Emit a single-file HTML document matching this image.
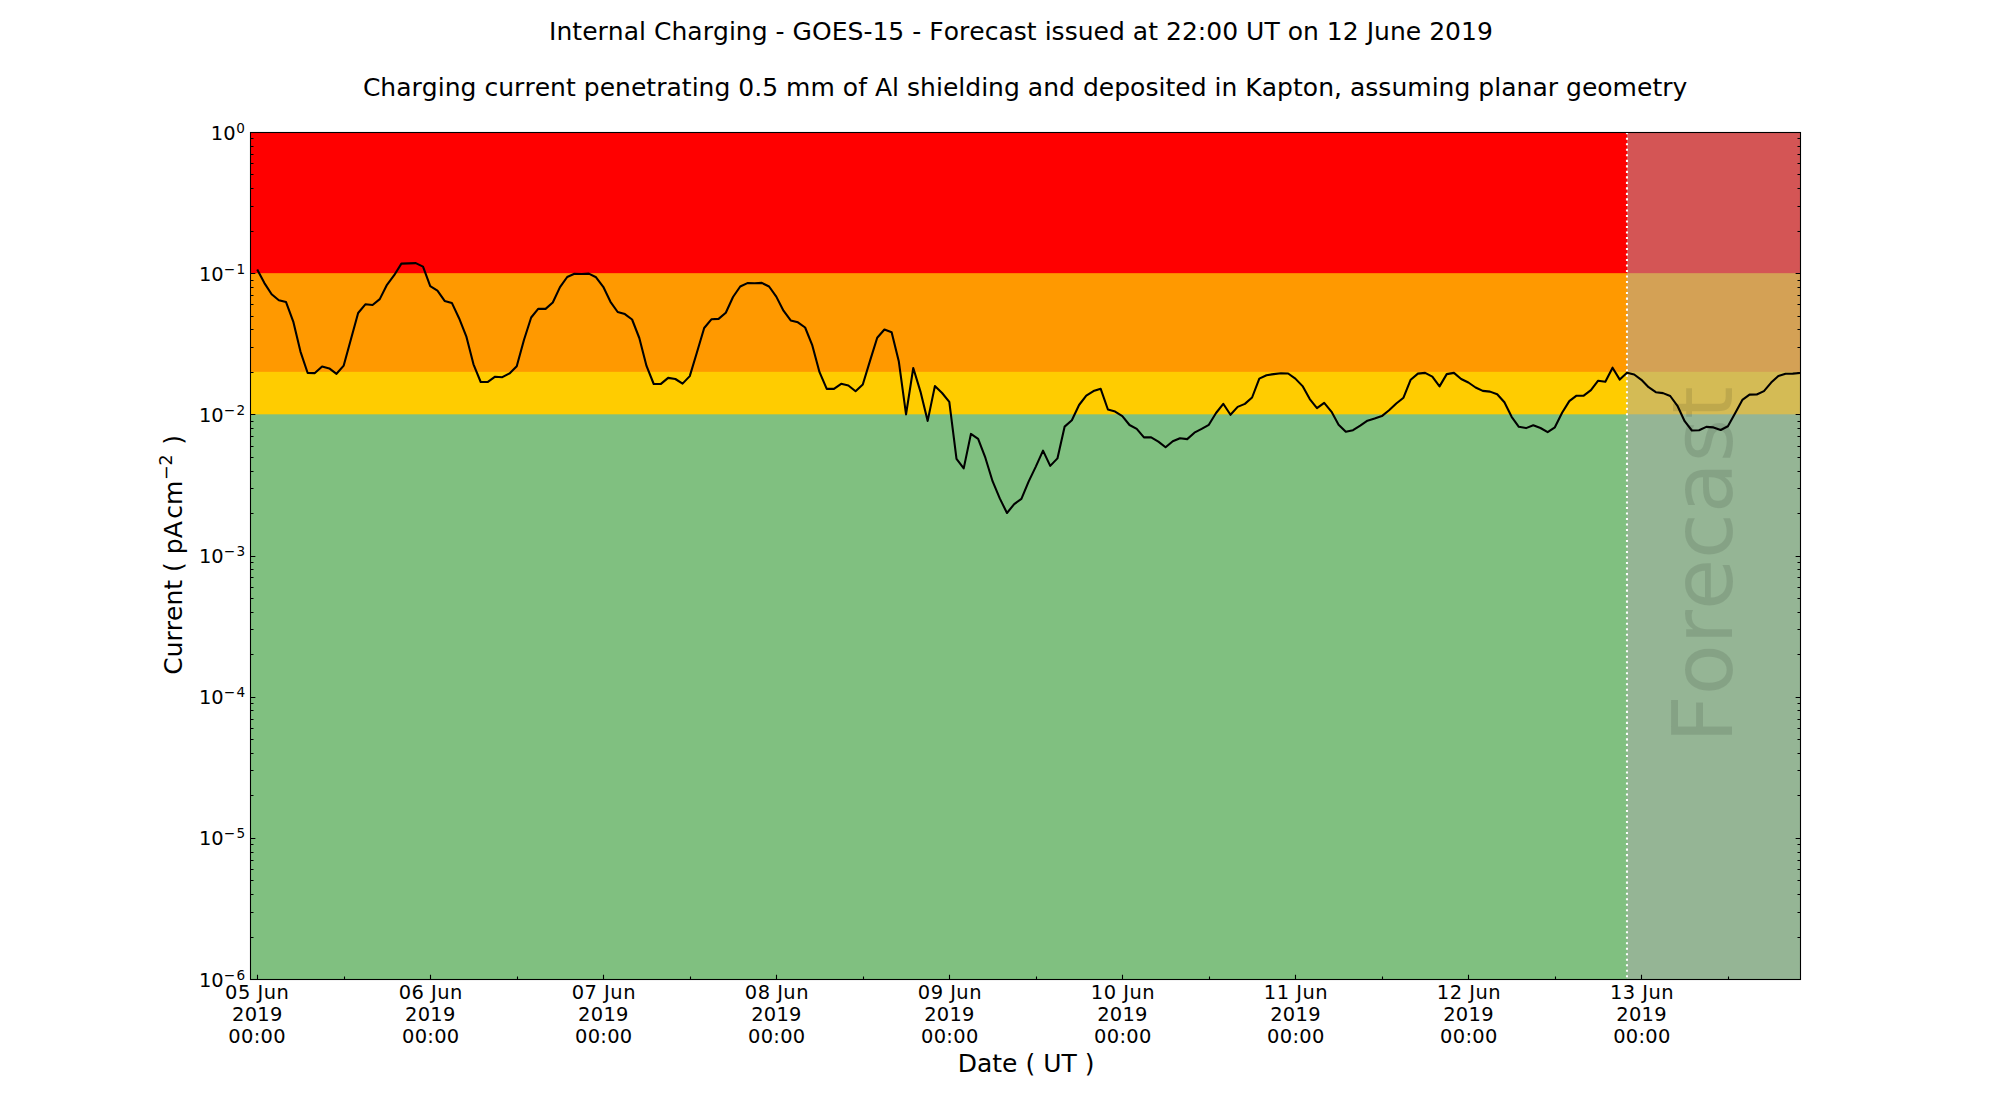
<!DOCTYPE html>
<html lang="en"><head><meta charset="utf-8">
<title>Internal Charging - GOES-15 - Forecast</title>
<style>
html,body{margin:0;padding:0;background:#fff;}
body{width:2000px;height:1100px;overflow:hidden;}
svg{display:block;}
text{font-family:"DejaVu Sans", "Liberation Sans", sans-serif;fill:#000;font-kerning:none;}
.t18{font-size:25px;}
.t14{font-size:19.44px;}
.sup{font-size:13.61px;}
</style></head><body>
<svg width="2000" height="1100" viewBox="0 0 2000 1100">
<rect x="0" y="0" width="2000" height="1100" fill="#ffffff"/>
<g>
<rect x="250.0" y="132.0" width="1550.0" height="847.0" fill="#ff0000"/>
<rect x="250.0" y="273.17" width="1550.0" height="705.83" fill="#ff9900"/>
<rect x="250.0" y="371.84" width="1550.0" height="607.16" fill="#ffcc00"/>
<rect x="250.0" y="414.33" width="1550.0" height="564.67" fill="#80c080"/>
<rect x="1626.98" y="132.0" width="173.02" height="847.0" fill="#a9a9a9" fill-opacity="0.5"/>
</g>
<text transform="translate(1732,743) rotate(-90)" font-size="83.33px" textLength="356.8" lengthAdjust="spacing" fill="#000000" fill-opacity="0.1" style="fill:#000;fill-opacity:0.1">Forecast</text>
<line x1="1626.98" y1="979.0" x2="1626.98" y2="132.0" stroke="#ffffff" stroke-width="2.08" stroke-dasharray="2.08 3.43" stroke-dashoffset="3.87"/>
<polyline points="257.21,269.5 264.42,283.1 271.63,294.3 278.84,300.2 286.05,302.1 293.26,321.6 300.47,351.6 307.67,373.0 314.88,373.1 322.09,366.6 329.30,368.4 336.51,373.8 343.72,365.6 350.93,339.3 358.14,313.0 365.35,304.3 372.56,305.0 379.77,299.1 386.98,284.8 394.19,275.2 401.40,263.6 408.60,263.4 415.81,263.1 423.02,266.6 430.23,286.1 437.44,290.6 444.65,300.9 451.86,302.9 459.07,318.2 466.28,336.3 473.49,364.3 480.70,382.0 487.91,381.9 495.12,376.7 502.33,377.2 509.53,373.4 516.74,366.2 523.95,340.0 531.16,317.5 538.37,308.7 545.58,308.9 552.79,302.5 560.00,287.1 567.21,277.0 574.42,273.7 581.63,274.0 588.84,273.6 596.05,277.3 603.26,286.8 610.47,301.8 617.67,312.0 624.88,314.1 632.09,319.5 639.30,338.0 646.51,365.9 653.72,384.0 660.93,383.9 668.14,377.9 675.35,379.0 682.56,383.6 689.77,376.1 696.98,352.3 704.19,328.0 711.40,319.3 718.60,318.9 725.81,312.7 733.02,297.0 740.23,286.5 747.44,283.1 754.65,283.3 761.86,282.9 769.07,286.5 776.28,296.6 783.49,310.7 790.70,320.4 797.91,322.3 805.12,327.5 812.33,345.4 819.53,372.2 826.74,388.9 833.95,388.9 841.16,383.8 848.37,385.5 855.58,391.2 862.79,384.5 870.00,360.9 877.21,337.7 884.42,329.5 891.63,332.3 898.84,361.6 906.05,414.4 913.26,368.0 920.47,391.6 927.67,420.9 934.88,386.1 942.09,393.0 949.30,401.8 956.51,458.8 963.72,468.4 970.93,433.9 978.14,438.9 985.35,457.7 992.56,481.2 999.77,498.4 1006.98,513.0 1014.19,504.1 1021.40,498.9 1028.60,481.6 1035.81,466.6 1043.02,450.6 1050.23,465.9 1057.44,458.4 1064.65,426.6 1071.86,420.2 1079.07,405.0 1086.28,395.6 1093.49,391.1 1100.70,388.8 1107.91,409.5 1115.12,411.6 1122.33,416.1 1129.53,425.0 1136.74,428.9 1143.95,437.4 1151.16,437.4 1158.37,441.6 1165.58,447.3 1172.79,441.2 1180.00,438.2 1187.21,439.1 1194.42,432.7 1201.63,428.9 1208.84,424.8 1216.05,413.0 1223.26,403.8 1230.47,414.8 1237.67,406.9 1244.88,403.9 1252.09,397.5 1259.30,378.6 1266.51,375.2 1273.72,374.1 1280.93,373.2 1288.14,373.5 1295.35,378.6 1302.56,386.1 1309.77,399.1 1316.98,408.2 1324.19,402.8 1331.40,411.6 1338.60,424.7 1345.81,431.8 1353.02,430.2 1360.23,425.7 1367.44,420.7 1374.65,418.6 1381.86,416.1 1389.07,410.3 1396.28,403.5 1403.49,397.7 1410.70,379.7 1417.91,373.6 1425.12,372.9 1432.33,376.6 1439.53,386.4 1446.74,374.1 1453.95,372.9 1461.16,379.0 1468.37,382.5 1475.58,387.5 1482.79,390.9 1490.00,391.6 1497.21,394.3 1504.42,402.3 1511.63,416.8 1518.84,426.8 1526.05,428.1 1533.26,425.3 1540.47,428.0 1547.67,432.1 1554.88,427.3 1562.09,412.7 1569.30,401.1 1576.51,395.7 1583.72,395.7 1590.93,390.2 1598.14,380.7 1605.35,381.8 1612.56,367.7 1619.77,379.6 1626.98,372.8 1634.19,374.5 1641.40,379.8 1648.60,387.2 1655.81,392.2 1663.02,393.1 1670.23,396.0 1677.44,405.8 1684.65,421.2 1691.86,430.5 1699.07,430.2 1706.28,426.9 1713.49,427.4 1720.70,430.0 1727.91,426.3 1735.12,413.2 1742.33,399.9 1749.53,394.6 1756.74,394.5 1763.95,391.1 1771.16,382.6 1778.37,376.1 1785.58,373.8 1792.79,373.6 1800.00,373.0" fill="none" stroke="#000000" stroke-width="2.08" stroke-linejoin="round" stroke-linecap="butt"/>
<path d="M250.5,132.50h4.86M1800.5,132.50h-4.86M250.5,231.50h3.0M1800.5,231.50h-3.0M250.5,206.50h3.0M1800.5,206.50h-3.0M250.5,188.50h3.0M1800.5,188.50h-3.0M250.5,174.50h3.0M1800.5,174.50h-3.0M250.5,163.50h3.0M1800.5,163.50h-3.0M250.5,154.50h3.0M1800.5,154.50h-3.0M250.5,146.50h3.0M1800.5,146.50h-3.0M250.5,138.50h3.0M1800.5,138.50h-3.0M250.5,273.50h4.86M1800.5,273.50h-4.86M250.5,372.50h3.0M1800.5,372.50h-3.0M250.5,347.50h3.0M1800.5,347.50h-3.0M250.5,329.50h3.0M1800.5,329.50h-3.0M250.5,316.50h3.0M1800.5,316.50h-3.0M250.5,304.50h3.0M1800.5,304.50h-3.0M250.5,295.50h3.0M1800.5,295.50h-3.0M250.5,287.50h3.0M1800.5,287.50h-3.0M250.5,280.50h3.0M1800.5,280.50h-3.0M250.5,414.50h4.86M1800.5,414.50h-4.86M250.5,513.50h3.0M1800.5,513.50h-3.0M250.5,488.50h3.0M1800.5,488.50h-3.0M250.5,471.50h3.0M1800.5,471.50h-3.0M250.5,457.50h3.0M1800.5,457.50h-3.0M250.5,446.50h3.0M1800.5,446.50h-3.0M250.5,436.50h3.0M1800.5,436.50h-3.0M250.5,428.50h3.0M1800.5,428.50h-3.0M250.5,421.50h3.0M1800.5,421.50h-3.0M250.5,556.50h4.86M1800.5,556.50h-4.86M250.5,654.50h3.0M1800.5,654.50h-3.0M250.5,629.50h3.0M1800.5,629.50h-3.0M250.5,612.50h3.0M1800.5,612.50h-3.0M250.5,598.50h3.0M1800.5,598.50h-3.0M250.5,587.50h3.0M1800.5,587.50h-3.0M250.5,577.50h3.0M1800.5,577.50h-3.0M250.5,569.50h3.0M1800.5,569.50h-3.0M250.5,562.50h3.0M1800.5,562.50h-3.0M250.5,697.50h4.86M1800.5,697.50h-4.86M250.5,795.50h3.0M1800.5,795.50h-3.0M250.5,770.50h3.0M1800.5,770.50h-3.0M250.5,753.50h3.0M1800.5,753.50h-3.0M250.5,739.50h3.0M1800.5,739.50h-3.0M250.5,728.50h3.0M1800.5,728.50h-3.0M250.5,719.50h3.0M1800.5,719.50h-3.0M250.5,710.50h3.0M1800.5,710.50h-3.0M250.5,703.50h3.0M1800.5,703.50h-3.0M250.5,838.50h4.86M1800.5,838.50h-4.86M250.5,937.50h3.0M1800.5,937.50h-3.0M250.5,912.50h3.0M1800.5,912.50h-3.0M250.5,894.50h3.0M1800.5,894.50h-3.0M250.5,880.50h3.0M1800.5,880.50h-3.0M250.5,869.50h3.0M1800.5,869.50h-3.0M250.5,860.50h3.0M1800.5,860.50h-3.0M250.5,852.50h3.0M1800.5,852.50h-3.0M250.5,844.50h3.0M1800.5,844.50h-3.0M250.5,979.50h4.86M1800.5,979.50h-4.86" stroke="#000" stroke-width="1.1" fill="none"/>
<path d="M257.50,979.5v-4.86M344.50,979.5v-3.0M430.50,979.5v-4.86M517.50,979.5v-3.0M603.50,979.5v-4.86M690.50,979.5v-3.0M776.50,979.5v-4.86M863.50,979.5v-3.0M949.50,979.5v-4.86M1036.50,979.5v-3.0M1122.50,979.5v-4.86M1209.50,979.5v-3.0M1295.50,979.5v-4.86M1382.50,979.5v-3.0M1468.50,979.5v-4.86M1555.50,979.5v-3.0M1641.50,979.5v-4.86M1728.50,979.5v-3.0" stroke="#000" stroke-width="1.1" fill="none"/>
<rect x="250.5" y="132.5" width="1550.0" height="847.0" fill="none" stroke="#000" stroke-width="1.1"/>
<text class="t18" x="1020.95" y="40" text-anchor="middle" textLength="943.8" lengthAdjust="spacing">Internal Charging - GOES-15 - Forecast issued at 22:00 UT on 12 June 2019</text>
<text class="t18" x="1025.1" y="96" text-anchor="middle" textLength="1324.45" lengthAdjust="spacing">Charging current penetrating 0.5 mm of Al shielding and deposited in Kapton, assuming planar geometry</text>
<text class="t18" x="1026.1" y="1072" text-anchor="middle">Date ( UT )</text>
<text class="t18" transform="translate(182,555.5) rotate(-90)"><tspan x="-119.24" y="0">Current ( pA</tspan> <tspan x="36.71" y="0">cm</tspan><tspan x="75.42" y="-10" style="font-size:17.5px">−2</tspan> <tspan x="110.77" y="0">)</tspan></text>
<text class="t14"><tspan x="235.54" y="139.60" text-anchor="end">10</tspan><tspan class="sup" x="236.24" y="132.60" text-anchor="start">0</tspan></text>
<text class="t14"><tspan x="223.74" y="280.77" text-anchor="end">10</tspan><tspan class="sup" x="223.84" y="273.77" text-anchor="start" textLength="21.3" lengthAdjust="spacing">−1</tspan></text>
<text class="t14"><tspan x="223.74" y="421.93" text-anchor="end">10</tspan><tspan class="sup" x="223.84" y="414.93" text-anchor="start" textLength="21.3" lengthAdjust="spacing">−2</tspan></text>
<text class="t14"><tspan x="223.74" y="563.10" text-anchor="end">10</tspan><tspan class="sup" x="223.84" y="556.10" text-anchor="start" textLength="21.3" lengthAdjust="spacing">−3</tspan></text>
<text class="t14"><tspan x="223.74" y="704.27" text-anchor="end">10</tspan><tspan class="sup" x="223.84" y="697.27" text-anchor="start" textLength="21.3" lengthAdjust="spacing">−4</tspan></text>
<text class="t14"><tspan x="223.74" y="845.43" text-anchor="end">10</tspan><tspan class="sup" x="223.84" y="838.43" text-anchor="start" textLength="21.3" lengthAdjust="spacing">−5</tspan></text>
<text class="t14"><tspan x="223.74" y="986.60" text-anchor="end">10</tspan><tspan class="sup" x="223.84" y="979.60" text-anchor="start" textLength="21.3" lengthAdjust="spacing">−6</tspan></text>
<text class="t14" x="256.91" y="998.8" text-anchor="middle" textLength="63.7" lengthAdjust="spacing">05 Jun</text>
<text class="t14" x="257.21" y="1020.7" text-anchor="middle" textLength="50.3" lengthAdjust="spacing">2019</text>
<text class="t14" x="256.91" y="1042.6" text-anchor="middle" textLength="57.2" lengthAdjust="spacing">00:00</text>
<text class="t14" x="430.58" y="998.8" text-anchor="middle" textLength="63.7" lengthAdjust="spacing">06 Jun</text>
<text class="t14" x="430.23" y="1020.7" text-anchor="middle" textLength="50.3" lengthAdjust="spacing">2019</text>
<text class="t14" x="430.58" y="1042.6" text-anchor="middle" textLength="57.2" lengthAdjust="spacing">00:00</text>
<text class="t14" x="603.61" y="998.8" text-anchor="middle" textLength="63.7" lengthAdjust="spacing">07 Jun</text>
<text class="t14" x="603.26" y="1020.7" text-anchor="middle" textLength="50.3" lengthAdjust="spacing">2019</text>
<text class="t14" x="603.61" y="1042.6" text-anchor="middle" textLength="57.2" lengthAdjust="spacing">00:00</text>
<text class="t14" x="776.63" y="998.8" text-anchor="middle" textLength="63.7" lengthAdjust="spacing">08 Jun</text>
<text class="t14" x="776.28" y="1020.7" text-anchor="middle" textLength="50.3" lengthAdjust="spacing">2019</text>
<text class="t14" x="776.63" y="1042.6" text-anchor="middle" textLength="57.2" lengthAdjust="spacing">00:00</text>
<text class="t14" x="949.65" y="998.8" text-anchor="middle" textLength="63.7" lengthAdjust="spacing">09 Jun</text>
<text class="t14" x="949.30" y="1020.7" text-anchor="middle" textLength="50.3" lengthAdjust="spacing">2019</text>
<text class="t14" x="949.65" y="1042.6" text-anchor="middle" textLength="57.2" lengthAdjust="spacing">00:00</text>
<text class="t14" x="1122.68" y="998.8" text-anchor="middle" textLength="63.7" lengthAdjust="spacing">10 Jun</text>
<text class="t14" x="1122.33" y="1020.7" text-anchor="middle" textLength="50.3" lengthAdjust="spacing">2019</text>
<text class="t14" x="1122.68" y="1042.6" text-anchor="middle" textLength="57.2" lengthAdjust="spacing">00:00</text>
<text class="t14" x="1295.70" y="998.8" text-anchor="middle" textLength="63.7" lengthAdjust="spacing">11 Jun</text>
<text class="t14" x="1295.35" y="1020.7" text-anchor="middle" textLength="50.3" lengthAdjust="spacing">2019</text>
<text class="t14" x="1295.70" y="1042.6" text-anchor="middle" textLength="57.2" lengthAdjust="spacing">00:00</text>
<text class="t14" x="1468.72" y="998.8" text-anchor="middle" textLength="63.7" lengthAdjust="spacing">12 Jun</text>
<text class="t14" x="1468.37" y="1020.7" text-anchor="middle" textLength="50.3" lengthAdjust="spacing">2019</text>
<text class="t14" x="1468.72" y="1042.6" text-anchor="middle" textLength="57.2" lengthAdjust="spacing">00:00</text>
<text class="t14" x="1641.75" y="998.8" text-anchor="middle" textLength="63.7" lengthAdjust="spacing">13 Jun</text>
<text class="t14" x="1641.40" y="1020.7" text-anchor="middle" textLength="50.3" lengthAdjust="spacing">2019</text>
<text class="t14" x="1641.75" y="1042.6" text-anchor="middle" textLength="57.2" lengthAdjust="spacing">00:00</text>
</svg></body></html>
